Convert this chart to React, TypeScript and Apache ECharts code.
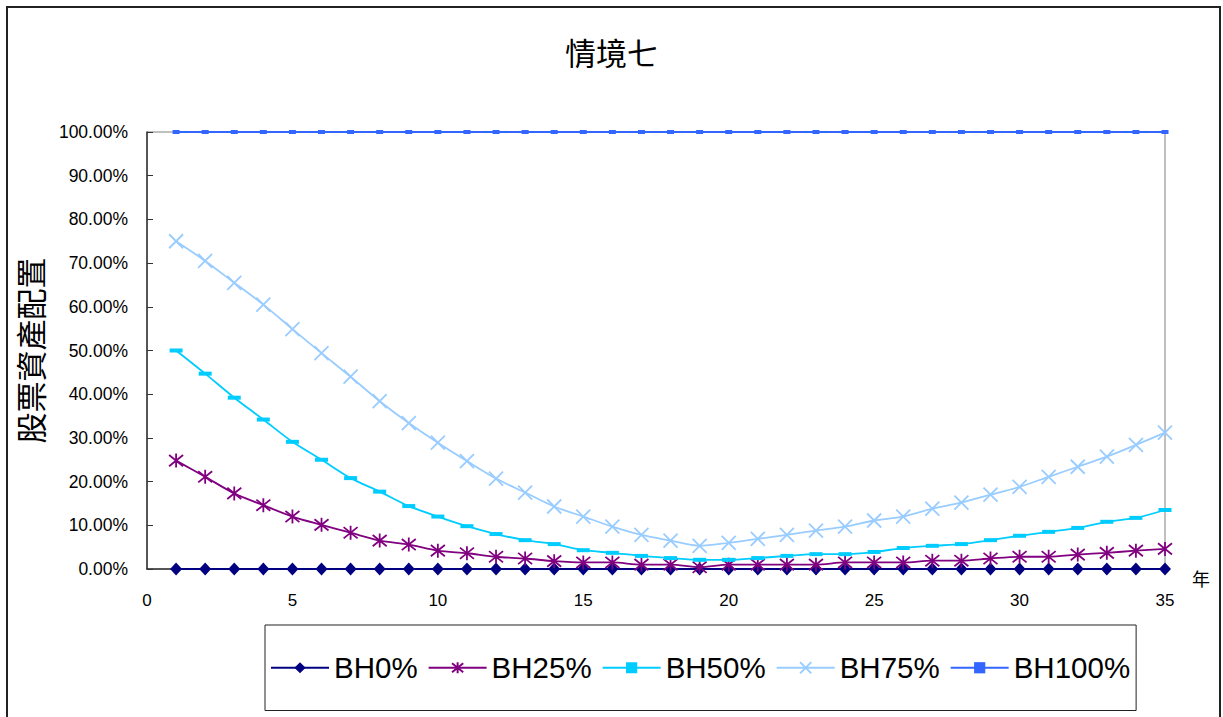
import React, { useEffect, useRef } from "react";
import * as echarts from "echarts";

const years = Array.from({ length: 35 }, (_, i) => i + 1);
const xTicks = [0, 5, 10, 15, 20, 25, 30, 35];
const seriesNames = ["BH0%", "BH25%", "BH50%", "BH75%", "BH100%"];

const bh0 = [0, 0, 0, 0, 0, 0, 0, 0, 0, 0, 0, 0, 0, 0, 0, 0, 0, 0, 0, 0, 0, 0, 0, 0, 0, 0, 0, 0, 0, 0, 0, 0, 0, 0, 0];
const bh25 = [24.8, 21.1, 17.3, 14.6, 12.0, 10.1, 8.3, 6.5, 5.6, 4.2, 3.6, 2.8, 2.4, 1.8, 1.5, 1.5, 1.0, 1.0, 0.4, 1.0, 1.0, 1.0, 1.0, 1.5, 1.5, 1.5, 1.9, 1.9, 2.4, 2.8, 2.8, 3.3, 3.7, 4.2, 4.6];
const bh50 = [50.0, 44.7, 39.2, 34.2, 29.1, 25.0, 20.8, 17.7, 14.4, 12.0, 9.8, 8.0, 6.6, 5.7, 4.3, 3.7, 3.0, 2.5, 2.1, 2.1, 2.5, 3.0, 3.4, 3.4, 3.9, 4.8, 5.3, 5.7, 6.6, 7.6, 8.5, 9.4, 10.8, 11.7, 13.5];
const bh75 = [75.0, 70.5, 65.5, 60.5, 54.9, 49.4, 44.0, 38.4, 33.4, 28.9, 24.7, 20.7, 17.5, 14.3, 12.0, 9.7, 7.8, 6.5, 5.3, 6.0, 6.9, 7.8, 8.8, 9.7, 11.1, 12.0, 13.8, 15.2, 17.0, 18.8, 21.1, 23.4, 25.7, 28.4, 31.2];
const bh100 = [100, 100, 100, 100, 100, 100, 100, 100, 100, 100, 100, 100, 100, 100, 100, 100, 100, 100, 100, 100, 100, 100, 100, 100, 100, 100, 100, 100, 100, 100, 100, 100, 100, 100, 100];

const title = "情境七";
const yName = "股票資產配置";
const xName = "年";

const FONT = "'Liberation Sans', Arial, 'Noto Sans CJK TC', sans-serif";
const CJK = "'Noto Sans CJK TC', 'Noto Sans CJK SC', sans-serif";

export default function App() {
  const ref = useRef<HTMLDivElement>(null);

  useEffect(() => {
    if (!ref.current) return;
    const chart = echarts.init(ref.current, null, { renderer: "svg" });
    const pair = (vals: number[]) => years.map((y, i) => [y, vals[i]]);
    const colors = ["#000080", "#800080", "#00CCFF", "#99CCFF", "#3366FF"];
    const values = [bh0, bh25, bh50, bh75, bh100];
    const symbols: any[] = [
      { symbol: "diamond", symbolSize: [12, 13] },
      { symbol: "path://M1,1L9,9M9,1L1,9M5,0L5,10", symbolSize: 14 },
      { symbol: "rect", symbolSize: [13, 4] },
      { symbol: "path://M0,0L10,10M10,0L0,10", symbolSize: 14 },
      { symbol: "rect", symbolSize: [7, 4] },
    ];
    const stroked = [false, true, false, true, false];

    const option: any = {
      animation: false,
      textStyle: { fontFamily: FONT },
      title: {
        text: title,
        left: "center",
        top: 31,
        textStyle: { fontFamily: CJK, fontSize: 31, fontWeight: "normal", color: "#000" },
      },
      grid: {
        left: 147,
        top: 132,
        right: 58,
        bottom: 148,
        show: true,
        borderColor: "#808080",
        borderWidth: 1,
        backgroundColor: "transparent",
      },
      legend: {
        data: seriesNames,
        left: 265,
        top: 625,
        orient: "horizontal",
        padding: [28, 6, 28, 5],
        borderColor: "#222",
        borderWidth: 1,
        itemWidth: 58,
        itemHeight: 14,
        itemGap: 10,
        textStyle: { fontFamily: FONT, fontSize: 29.5, color: "#000" },
      },
      xAxis: {
        type: "value",
        min: 0,
        max: 35,
        interval: 5,
        name: xName,
        nameLocation: "end",
        nameGap: 27,
        nameTextStyle: { fontFamily: CJK, fontSize: 18, color: "#000", verticalAlign: "top", padding: [0, 0, 0, 0] },
        axisLine: { show: true, lineStyle: { color: "#333", width: 1.5 } },
        axisTick: { show: false },
        splitLine: { show: false },
        axisLabel: {
          fontSize: 17,
          color: "#000",
          margin: 23,
          customValues: xTicks,
        },
      },
      yAxis: {
        type: "value",
        min: 0,
        max: 100,
        interval: 10,
        name: yName,
        nameLocation: "middle",
        nameRotate: 90,
        nameGap: 102,
        nameTextStyle: { fontFamily: CJK, fontSize: 31, color: "#000" },
        axisLine: { show: true, lineStyle: { color: "#333", width: 1.5 } },
        axisTick: { show: true, inside: true, length: 6, lineStyle: { color: "#333" } },
        splitLine: { show: false },
        axisLabel: {
          fontSize: 17.5,
          color: "#000",
          margin: 19,
          formatter: (v: number) => v.toFixed(2) + "%",
        },
      },
      graphic: [
        {
          type: "rect",
          silent: true,
          shape: { x: 7, y: 7, width: 1213, height: 740 },
          style: { fill: "none", stroke: "#222", lineWidth: 2 },
        },
      ],
      series: seriesNames.map((name, i) => ({
        name,
        type: "line",
        data: pair(values[i]),
        smooth: 0.3,
        showSymbol: true,
        symbol: symbols[i].symbol,
        symbolSize: symbols[i].symbolSize,
        lineStyle: { color: colors[i], width: i === 0 ? 2.2 : 1.8 },
        itemStyle: stroked[i]
          ? { color: colors[i], borderColor: colors[i], borderWidth: 1.8 }
          : { color: colors[i], borderWidth: 0 },
        emphasis: { disabled: true },
        z: 2 + i,
      })),
    };
    chart.setOption(option);
    return () => chart.dispose();
  }, []);

  return (
    <div
      ref={ref}
      style={{ position: "fixed", left: 0, top: 0, width: 1223, height: 717, background: "#fff" }}
    />
  );
}
